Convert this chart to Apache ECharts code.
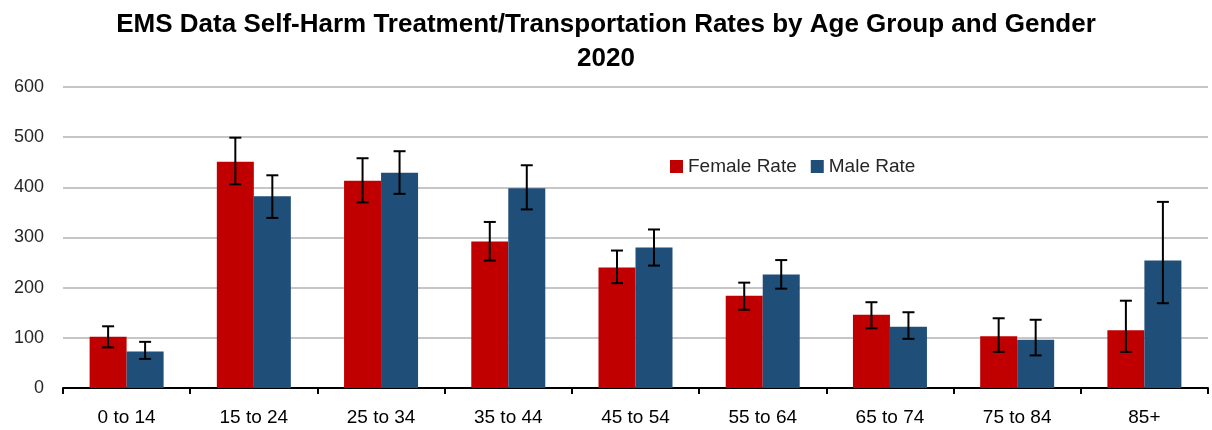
<!DOCTYPE html>
<html>
<head>
<meta charset="utf-8">
<script src="https://cdn.jsdelivr.net/npm/echarts@6/dist/echarts.min.js"></script>
<style>
html,body{margin:0;padding:0;background:#fff;}
#chart{width:1212px;height:430px;}
</style>
</head>
<body>
<div id="chart"></div>
<script>
const categories = ['0 to 14','15 to 24','25 to 34','35 to 44','45 to 54','55 to 64','65 to 74','75 to 84','85+'];
const femaleRate = [102, 451, 413, 292, 240, 184, 146, 103, 115];
const femaleLow  = [81, 406, 370, 254, 209, 156, 119, 72, 72];
const femaleHigh = [123, 499, 458, 331, 274, 210, 171, 139, 174];
const maleRate   = [73, 382, 429, 398, 280, 226, 122, 96, 254];
const maleLow    = [58, 339, 387, 356, 244, 198, 98, 65, 169];
const maleHigh   = [92, 424, 472, 444, 316, 255, 151, 136, 371];
const yTicks = [0, 100, 200, 300, 400, 500, 600];

const BAR_W = 37;
const RED = '#C00000';
const BLUE = '#1F4E79';

function errorSeries(name, low, high, side) {
  return {
    type: 'custom',
    name: name + ' CI',
    z: 10,
    data: categories.map((c, i) => [i, low[i], high[i]]),
    renderItem: function (params, api) {
      const i = api.value(0);
      const lo = api.coord([i, api.value(1)]);
      const hi = api.coord([i, api.value(2)]);
      const x = lo[0] + side * BAR_W / 2;
      const cap = 6;
      const style = { stroke: '#000', lineWidth: 2 };
      return {
        type: 'group',
        children: [
          { type: 'line', shape: { x1: x, y1: hi[1], x2: x, y2: lo[1] }, style: style },
          { type: 'line', shape: { x1: x - cap, y1: hi[1], x2: x + cap, y2: hi[1] }, style: style },
          { type: 'line', shape: { x1: x - cap, y1: lo[1], x2: x + cap, y2: lo[1] }, style: style }
        ]
      };
    }
  };
}

const chart = echarts.init(document.getElementById('chart'), null, { renderer: 'canvas' });
chart.setOption({
  animation: false,
  backgroundColor: '#fff',
  title: {
    text: 'EMS Data Self-Harm Treatment/Transportation Rates by Age Group and Gender\n2020',
    left: 'center',
    top: 3,
    textStyle: {
      fontFamily: 'Liberation Sans',
      fontWeight: 'bold',
      fontSize: 26,
      lineHeight: 34,
      color: '#000'
    }
  },
  legend: {
    left: 665,
    top: 152,
    itemWidth: 13,
    itemHeight: 13,
    itemGap: 14,
    icon: 'rect',
    data: ['Female Rate', 'Male Rate'],
    textStyle: { fontFamily: 'Liberation Sans', fontSize: 19, color: '#262626' }
  },
  grid: { left: 63, right: 4, top: 87, bottom: 42, containLabel: false },
  xAxis: {
    type: 'category',
    data: categories,
    axisLine: { lineStyle: { color: '#000', width: 2 } },
    axisTick: { show: true, length: 6, lineStyle: { color: '#000', width: 2 } },
    axisLabel: { fontFamily: 'Liberation Sans', fontSize: 19, color: '#000', margin: 20 }
  },
  yAxis: {
    type: 'value',
    min: yTicks[0],
    max: yTicks[yTicks.length - 1],
    interval: 100,
    axisLine: { show: false },
    axisTick: { show: false },
    axisLabel: { fontFamily: 'Liberation Sans', fontSize: 18, color: '#262626', margin: 19 },
    splitLine: { lineStyle: { color: '#C6C6C6', width: 2 } }
  },
  series: [
    {
      name: 'Female Rate', type: 'bar', data: femaleRate, barWidth: BAR_W, barGap: '0%',
      itemStyle: { color: RED }
    },
    {
      name: 'Male Rate', type: 'bar', data: maleRate, barWidth: BAR_W, barGap: '0%',
      itemStyle: { color: BLUE }
    },
    errorSeries('Female Rate', femaleLow, femaleHigh, -1),
    errorSeries('Male Rate', maleLow, maleHigh, 1)
  ]
});
</script>
</body>
</html>
